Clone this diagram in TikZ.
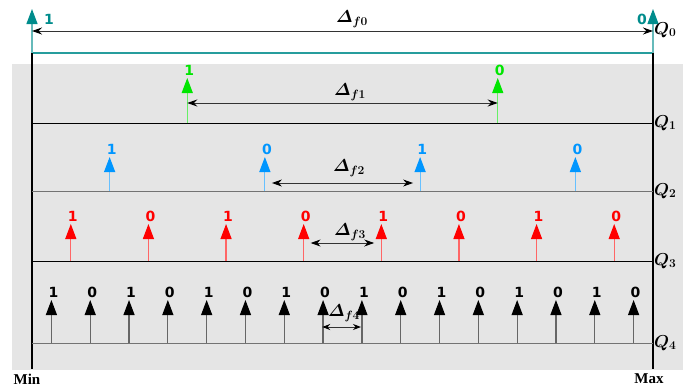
\documentclass[tikz,border=0pt]{standalone}
\usepackage{amsmath}
\usepackage[no-math]{fontspec}
\setmainfont{Liberation Serif}
\newfontfamily\bitfont{DejaVu Sans}
\usetikzlibrary{arrows.meta}
\definecolor{qteal}{RGB}{0,140,140}
\definecolor{qgreen}{RGB}{0,230,0}
\definecolor{qblue}{RGB}{0,150,255}
\definecolor{qred}{RGB}{255,0,0}
\definecolor{qback}{RGB}{229,229,229}

\begin{document}
\begin{tikzpicture}[x=1pt,y=-1pt]
            \tikzset{line/.style={line width=1pt}};
            \tikzset{stem/.style={line width=1.2pt,draw=#1!60,-{Triangle[width=11pt,length=15pt,color=#1]}}};
            \tikzset{bit/.style={anchor=south,inner sep=2pt,xshift=2pt,text=#1,font=\bitfont\bfseries\fontsize{14}{14}\selectfont}};
            \tikzset{dim/.style={line width=1pt,draw=black!80,{Stealth[length=10pt,width=7pt,color=black]}-{Stealth[length=10pt,width=7pt,color=black]}}};
            \tikzset{dlabel/.style={inner sep=0pt,font=\boldmath\fontsize{17}{17}\selectfont}};
            \tikzset{qlabel/.style={anchor=west,inner sep=0pt,font=\boldmath\fontsize{18}{18}\selectfont}};
            
            \useasboundingbox (0,0) rectangle (689,389);
            \fill[qback] (12,64) rectangle (683,370);
            
            % level 0
            \coordinate (b0l) at (32,53);
            \coordinate (t0l) at (32,9);
            \coordinate (b0r) at (653,53);
            \coordinate (t0r) at (653,9);
            \draw[line width=1.2pt,qteal!85] (b0l) -- (b0r);
            \draw[stem=qteal] (b0l) -- (t0l);
            \draw[stem=qteal] (b0r) -- (t0r);
            \node[bit=qteal,anchor=center] (l0l) at (47,19) {1};
            \node[bit=qteal,anchor=center] (l0r) at (640,19) {0};
            \coordinate (d0l) at (32,31);
            \coordinate (d0r) at (653,31);
            \draw[dim] (d0l) -- (d0r);
            \node[dlabel] (lf0) at (352,19) {$\varDelta_{f0}$};
            \node[qlabel] (q0) at (654,30) {$Q_0$};
            
            % frame
            \coordinate (minl) at (32,369);
            \coordinate (maxl) at (653,369);
            \draw[line width=1.4pt] (b0l) -- (minl);
            \draw[line width=1.4pt] (b0r) -- (maxl);
            \node[font=\bfseries\fontsize{15}{15}\selectfont] (min) at (27,379) {Min};
            \node[font=\bfseries\fontsize{15}{15}\selectfont] (max) at (649,379) {Max};
            
            % levels 1 to 4
            \foreach \r/\n/\yb/\yt/\c/\lc in {1/2/123/78/qgreen/black,2/4/191/157/qblue/black!55,3/8/261/224/qred/black,4/16/343/300/black/black!55} {
                \coordinate (s\r l) at (32,\yb);
                \coordinate (s\r r) at (653,\yb);
                \draw[line,\lc] (s\r l) -- (s\r r);
                \node[qlabel] (q\r) at (654,\yb) {$Q_\r$};
                \pgfmathtruncatemacro{\last}{\n-1}
                \foreach \i in {0,...,\last} {
                    \pgfmathsetmacro{\x}{32+621/(2*\n)*(2*\i+1)}
                    \pgfmathtruncatemacro{\bv}{1-mod(\i,2)}
                    \coordinate (b\r-\i) at (\x,\yb);
                    \coordinate (t\r-\i) at (\x,\yt);
                    \draw[stem=\c] (b\r-\i) -- (t\r-\i);
                    \node[bit=\c] (l\r-\i) at (t\r-\i) {\bv};
                }
            }
            
            % spacings
            \coordinate (d1l) at (187.25,103);
            \coordinate (d1r) at (497.75,103);
            \draw[dim] (d1l) -- (d1r);
            \node[dlabel] (lf1) at (350,92) {$\varDelta_{f1}$};
            
            \coordinate (d2l) at (264.9,183);
            \coordinate (d2r) at (420.1,183);
            \draw[dim,shorten <=7pt,shorten >=7pt] (d2l) -- (d2r);
            \node[dlabel] (lf2) at (349,168) {$\varDelta_{f2}$};
            
            \coordinate (d3l) at (303.6,243);
            \coordinate (d3r) at (381.2,243);
            \draw[dim,shorten <=7pt,shorten >=7pt] (d3l) -- (d3r);
            \node[dlabel] (lf3) at (350,232) {$\varDelta_{f3}$};
            
            \coordinate (d4l) at (322.2,327);
            \coordinate (d4r) at (361,327);
            \draw[line width=1pt,draw=black!80,{Stealth[length=8pt,width=6pt,color=black]}-{Stealth[length=8pt,width=6pt,color=black]}] (d4l) -- (d4r);
            \node[dlabel] (lf4) at (344,313) {$\varDelta_{f4}$};
\end{tikzpicture}
\end{document}
